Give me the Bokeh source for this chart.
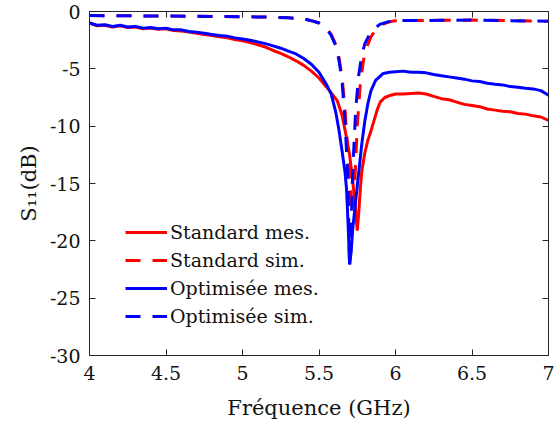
from bokeh.plotting import figure
from bokeh.models import (Range1d, LinearAxis, FixedTicker, Legend, LegendItem)
from bokeh.embed import file_html
from bokeh.resources import INLINE

# ---------------- data ----------------
std_mes_f = [4.00, 4.05, 4.10, 4.15, 4.20, 4.25, 4.30, 4.35, 4.40, 4.45, 4.50, 4.55,
             4.60, 4.65, 4.70, 4.75, 4.80, 4.85, 4.90, 4.95, 5.00, 5.05, 5.10, 5.15,
             5.20, 5.25, 5.30, 5.35, 5.40, 5.45, 5.50, 5.55, 5.58, 5.62, 5.65, 5.68,
             5.70, 5.72, 5.74, 5.75, 5.76, 5.77, 5.78, 5.80, 5.82, 5.84, 5.86, 5.88,
             5.90, 5.93, 5.97, 6.00, 6.05, 6.10, 6.15, 6.20, 6.25, 6.30, 6.35, 6.40,
             6.45, 6.50, 6.55, 6.60, 6.65, 6.70, 6.75, 6.80, 6.85, 6.90, 6.95, 7.00]
std_mes_db = [-1.0, -1.25, -1.2, -1.35, -1.25, -1.4, -1.35, -1.5, -1.45, -1.55, -1.5, -1.65,
              -1.7, -1.8, -1.9, -2.0, -2.1, -2.2, -2.3, -2.45, -2.55, -2.7, -2.9, -3.1,
              -3.4, -3.65, -3.95, -4.3, -4.7, -5.2, -5.8, -6.6, -7.1, -7.8, -9.0, -11.0,
              -12.5, -14.7, -17.5, -19.1, -17.5, -15.5, -13.9, -12.3, -11.2, -10.4, -9.5, -8.6,
              -7.9, -7.5, -7.3, -7.2, -7.2, -7.15, -7.1, -7.2, -7.4, -7.6, -7.7, -7.9,
              -8.1, -8.2, -8.3, -8.5, -8.6, -8.7, -8.75, -8.9, -8.95, -9.1, -9.2, -9.5]

std_sim_f = [4.00, 4.50, 5.00, 5.20, 5.30, 5.40, 5.45, 5.50, 5.55, 5.58, 5.61, 5.63,
             5.65, 5.67, 5.69, 5.71, 5.72, 5.73, 5.75, 5.77, 5.79, 5.81, 5.84, 5.87,
             5.91, 5.96, 6.00, 6.50, 7.00]
std_sim_db = [-0.35, -0.4, -0.45, -0.5, -0.55, -0.65, -0.8, -1.0, -1.45, -2.0, -2.9, -4.0,
              -5.6, -8.5, -12.5, -16.5, -17.5, -16.0, -10.0, -6.3, -4.3, -3.2, -2.2, -1.6,
              -1.15, -0.9, -0.8, -0.75, -0.85]

opt_mes_f = [4.00, 4.05, 4.10, 4.15, 4.20, 4.25, 4.30, 4.35, 4.40, 4.45, 4.50, 4.55,
             4.60, 4.65, 4.70, 4.75, 4.80, 4.85, 4.90, 4.95, 5.00, 5.05, 5.10, 5.15,
             5.20, 5.25, 5.30, 5.35, 5.40, 5.45, 5.50, 5.55, 5.58, 5.61, 5.63, 5.65,
             5.67, 5.68, 5.69, 5.70, 5.71, 5.72, 5.74, 5.76, 5.78, 5.80, 5.82, 5.84,
             5.87, 5.92, 5.96, 6.00, 6.05, 6.10, 6.15, 6.20, 6.25, 6.30, 6.35, 6.40,
             6.45, 6.50, 6.55, 6.60, 6.65, 6.70, 6.75, 6.80, 6.85, 6.90, 6.95, 7.00]
opt_mes_db = [-1.0, -1.2, -1.15, -1.3, -1.2, -1.35, -1.3, -1.45, -1.4, -1.5, -1.45, -1.6,
              -1.6, -1.75, -1.8, -1.9, -2.0, -2.1, -2.15, -2.3, -2.4, -2.5, -2.65, -2.8,
              -3.0, -3.2, -3.45, -3.7, -4.1, -4.6, -5.3, -6.4, -7.2, -8.8, -10.3, -12.1,
              -14.0, -15.5, -18.5, -22.0, -21.0, -19.0, -16.5, -14.0, -11.5, -9.5, -8.0, -6.9,
              -6.0, -5.4, -5.3, -5.25, -5.2, -5.3, -5.3, -5.35, -5.5, -5.6, -5.7, -5.8,
              -5.9, -6.05, -6.1, -6.25, -6.35, -6.4, -6.55, -6.6, -6.7, -6.75, -6.9, -7.3]

opt_sim_f = [4.00, 4.50, 5.00, 5.20, 5.30, 5.40, 5.45, 5.50, 5.55, 5.58, 5.61, 5.63,
             5.65, 5.67, 5.69, 5.70, 5.71, 5.72, 5.74, 5.76, 5.78, 5.80, 5.83, 5.86,
             5.90, 5.95, 6.00, 6.50, 7.00]
opt_sim_db = [-0.35, -0.4, -0.45, -0.5, -0.55, -0.65, -0.8, -1.0, -1.5, -2.1, -3.0, -4.2,
              -6.0, -9.5, -15.0, -22.4, -19.0, -14.0, -8.5, -5.5, -3.8, -2.8, -2.0, -1.5,
              -1.1, -0.9, -0.8, -0.75, -0.85]

x_ticks = [4, 4.5, 5, 5.5, 6, 6.5, 7]
x_tick_labels = ["4", "4.5", "5", "5.5", "6", "6.5", "7"]
y_ticks = [-30, -25, -20, -15, -10, -5, 0]
y_tick_labels = ["-30", "-25", "-20", "-15", "-10", "-5", "0"]

series_names = ["Standard mes.", "Standard sim.", "Optimisée mes.", "Optimisée sim."]

# ---------------- figure ----------------
FONT = "DejaVu Serif"
AX = "#262626"
TXT = "#111111"

p = figure(width=554, height=427, output_backend="svg", toolbar_location=None,
           x_range=Range1d(4, 7), y_range=Range1d(-30, 0),
           min_border_left=89, min_border_right=6, min_border_top=11,
           min_border_bottom=72)
p.grid.visible = False
p.outline_line_color = None
p.background_fill_color = "white"
p.border_fill_color = "white"

for ax, ticks, labels in [(p.xaxis[0], x_ticks, x_tick_labels),
                          (p.yaxis[0], y_ticks, y_tick_labels)]:
    ax.ticker = FixedTicker(ticks=ticks)
    ax.major_label_overrides = {t: l for t, l in zip(ticks, labels)}
    ax.axis_line_color = AX
    ax.major_tick_line_color = AX
    ax.major_tick_in = 6
    ax.major_tick_out = 0
    ax.minor_tick_line_color = None
    ax.major_label_text_font = FONT
    ax.major_label_text_font_size = "19px"
    ax.major_label_text_color = TXT
    ax.axis_label_text_font = FONT
    ax.axis_label_text_font_size = "21px"
    ax.axis_label_text_font_style = "normal"
    ax.axis_label_text_color = TXT

p.xaxis[0].major_label_standoff = 10
p.yaxis[0].major_label_standoff = 9
p.xaxis[0].axis_label = "Fréquence (GHz)"
p.xaxis[0].axis_label_standoff = 13
p.yaxis[0].axis_label = "S\u2081\u2081(dB)"
p.yaxis[0].axis_label_standoff = 6

# box ticks on top and right (minor ticks only, so no labels)
for ticks, loc in [(x_ticks, "above"), (y_ticks, "right")]:
    ax = LinearAxis(ticker=FixedTicker(ticks=[], minor_ticks=ticks))
    ax.axis_line_color = AX
    ax.major_tick_line_color = None
    ax.minor_tick_line_color = AX
    ax.minor_tick_line_width = 1
    ax.minor_tick_in = 6
    ax.minor_tick_out = 0
    ax.major_label_standoff = 0
    p.add_layout(ax, loc)

r1 = p.line(std_mes_f, std_mes_db, line_color="#ff0000", line_width=3)
r2 = p.line(std_sim_f, std_sim_db, line_color="#ff0000", line_width=3, line_dash="15 12")
r3 = p.line(opt_mes_f, opt_mes_db, line_color="#0000ff", line_width=3)
r4 = p.line(opt_sim_f, opt_sim_db, line_color="#0000ff", line_width=3, line_dash="15 12")

legend = Legend(items=[LegendItem(label=n, renderers=[r]) for n, r in
                       zip(series_names, [r1, r2, r3, r4])],
                location=(36, 27))
legend.border_line_color = None
legend.background_fill_alpha = 0
legend.padding = 0
legend.margin = 0
legend.spacing = 4
legend.glyph_width = 42
legend.glyph_height = 24
legend.label_height = 24
legend.label_standoff = 3
legend.label_text_font = FONT
legend.label_text_font_size = "19px"
legend.label_text_color = TXT
p.add_layout(legend, "center")

open("out.html", "w").write(file_html(p, INLINE))
